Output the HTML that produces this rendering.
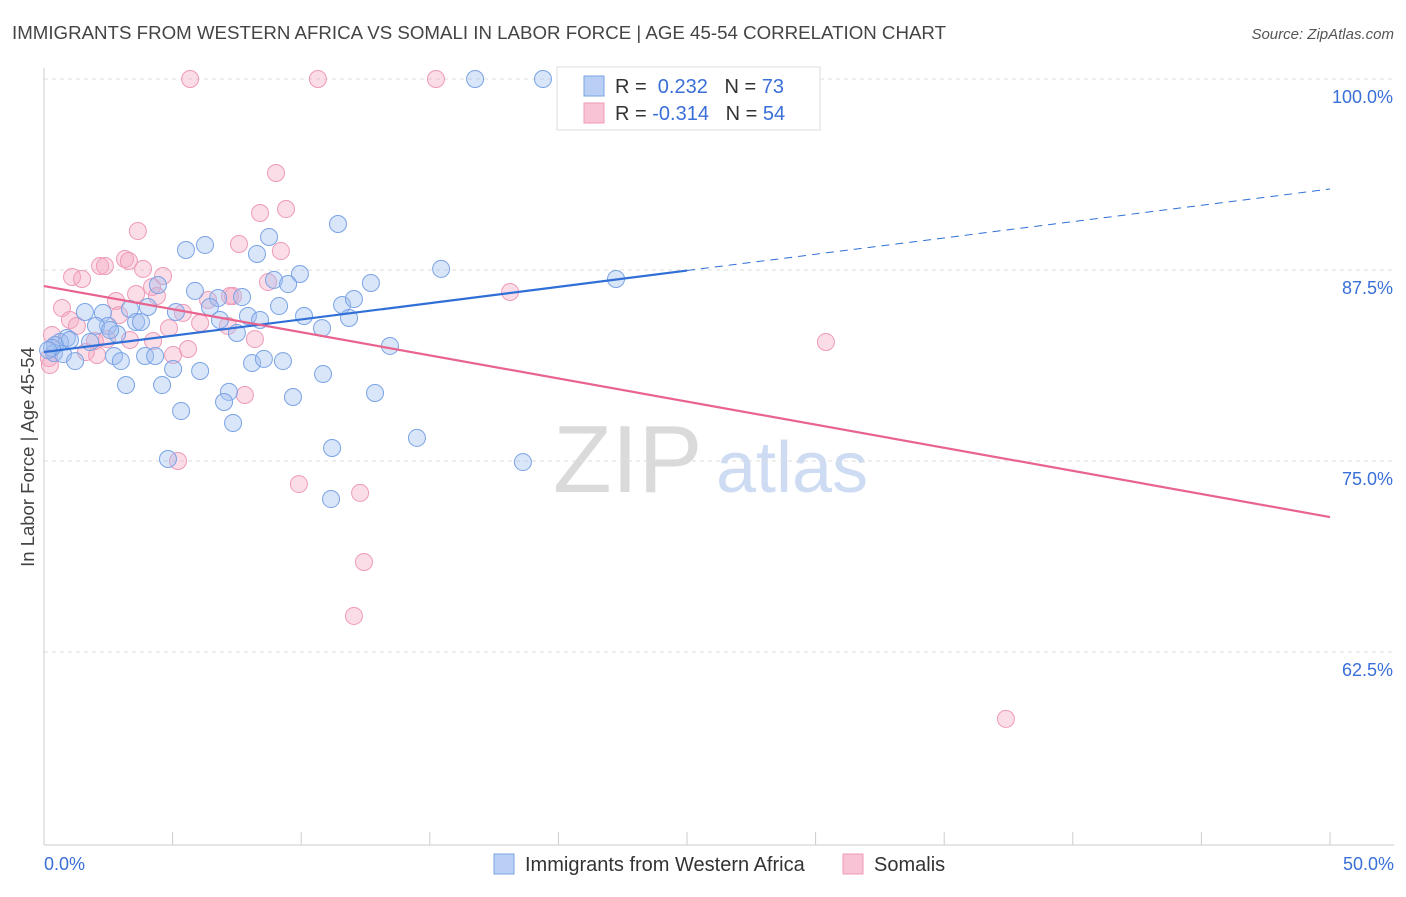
<!DOCTYPE html>
<html><head><meta charset="utf-8"><style>
body{margin:0;background:#fff;font-family:"Liberation Sans",sans-serif;}
svg text{font-family:"Liberation Sans",sans-serif;}
</style></head><body>
<svg id="chart" width="1406" height="892" viewBox="0 0 1406 892">
<text x="12" y="39" font-size="18" fill="#444" textLength="934" lengthAdjust="spacingAndGlyphs">IMMIGRANTS FROM WESTERN AFRICA VS SOMALI IN LABOR FORCE | AGE 45-54 CORRELATION CHART</text>
<text x="1394" y="39" font-size="15" fill="#555" text-anchor="end" font-style="italic">Source: ZipAtlas.com</text>
<g>
<text x="553" y="492" font-family="Liberation Serif,serif" font-size="96" fill="#dadada">ZIP</text>
<text x="716" y="492" font-size="72" fill="#cddcf3">atlas</text>
</g>
<g id="grid"></g>
<g id="axes"></g>
<g id="pink"></g>
<g id="blue"></g>
<g id="lines"></g>
<text transform="translate(34,457) rotate(-90)" font-size="18.5" fill="#444" text-anchor="middle">In Labor Force | Age 45-54</text>
<g>
<rect x="557" y="67" width="263" height="63" fill="#fff" stroke="#ddd"/>
<rect x="584" y="76" width="20" height="20" fill="#b9cff3" stroke="#7aa3e5"/>
<rect x="584" y="103" width="20" height="20" fill="#f8c4d5" stroke="#ef9ab8"/>
<text x="615" y="93" font-size="20" fill="#333">R = <tspan fill="#3a6fd8">&#160;0.232</tspan>&#160;&#160;&#160;N = <tspan fill="#3a6fd8">73</tspan></text>
<text x="615" y="120" font-size="20" fill="#333">R = <tspan fill="#3a6fd8">-0.314</tspan>&#160;&#160;&#160;N = <tspan fill="#3a6fd8">54</tspan></text>
</g>
<g>
<rect x="494" y="854" width="20" height="20" fill="#b9cff3" stroke="#7aa3e5"/>
<text x="525" y="871" font-size="20" fill="#333">Immigrants from Western Africa</text>
<rect x="843" y="854" width="20" height="20" fill="#f8c4d5" stroke="#ef9ab8"/>
<text x="874" y="871" font-size="20" fill="#333">Somalis</text>
</g>
</svg>
<script>
const blueX=[16.76,19.40,11.43,5.52,6.26,8.75,8.28,15.44,22.24,9.95,8.94,9.49,12.71,5.87,6.77,7.70,4.43,9.14,10.11,11.59,12.05,11.86,10.81,1.59,2.29,3.34,4.04,5.13,6.45,6.84,7.93,8.40,3.58,3.77,2.49,2.02,2.84,7.50,0.89,0.62,0.43,1.79,13.45,0.39,0.74,1.21,2.72,2.99,3.93,4.32,5.02,6.07,8.09,8.55,9.29,10.85,3.19,4.59,7.19,12.87,9.68,5.33,7.00,7.35,14.50,11.20,4.82,18.62,11.16,0.31,0.16,1.01,2.57];
const blueY=[100,100,90.51,88.81,89.14,89.66,88.55,87.57,86.91,87.24,86.85,86.58,86.65,86.13,85.67,85.73,86.52,85.14,84.49,85.21,85.60,84.36,83.70,84.75,84.69,84.95,85.08,84.75,85.08,84.23,84.49,84.23,84.10,84.10,83.84,83.84,83.31,83.38,83.05,82.79,82.59,82.79,82.53,82.07,82.00,81.54,81.87,81.54,81.87,81.87,81.02,80.89,81.41,81.68,81.54,80.69,79.97,79.97,79.52,79.45,79.19,78.27,78.86,77.49,76.51,75.85,75.13,74.93,72.51,82.40,82.26,82.92,83.57];
const pinkX=[5.68,10.65,15.24,9.02,9.41,8.40,3.65,7.58,9.21,3.15,3.30,2.18,2.37,3.85,1.09,1.48,4.63,4.20,4.39,3.58,7.35,8.71,6.38,7.23,18.12,2.80,0.70,1.01,2.92,5.40,1.28,4.86,6.07,7.15,0.31,4.24,8.20,1.98,2.45,5.60,3.34,5.02,2.06,1.63,0.19,7.81,5.21,9.91,12.29,12.44,12.05,30.40,37.40,0.23];
const pinkY=[100,100,100,93.85,91.49,91.23,90.05,89.20,88.74,88.22,88.09,87.76,87.76,87.57,87.04,86.91,87.11,86.39,85.80,85.93,85.80,86.71,85.54,85.80,86.06,85.47,85.01,84.23,84.55,84.69,83.84,83.70,84.03,83.84,83.25,82.85,82.98,82.85,82.98,82.33,82.92,81.94,81.94,82.13,81.74,79.32,75.00,73.49,72.91,68.39,64.86,82.79,58.12,81.28];
const blueTrend=[82.13,92.8];
const pinkTrend=[86.45,71.33];
const yTicks=[100,87.5,75,62.5];
const yTickLabels=["100.0%","87.5%","75.0%","62.5%"];
const xTickLabels=["0.0%","50.0%"];
const NS="http://www.w3.org/2000/svg";
const X=v=>44+v/50*1286;
const Y=v=>79+(100-v)*15.28;
function mk(tag,attrs,parent){const e=document.createElementNS(NS,tag);for(const k in attrs)e.setAttribute(k,attrs[k]);parent.appendChild(e);return e;}
const grid=document.getElementById('grid'),axes=document.getElementById('axes');
yTicks.forEach((t,i)=>{
 const l=mk('line',{x1:44,x2:1394,y1:Y(t),y2:Y(t),stroke:'#ddd','stroke-dasharray':'4,4'},grid);
 
 
 const tx=mk('text',{x:1393,y:Y(t)+24,'font-size':18,fill:'#3a6fd8','text-anchor':'end'},axes);
 tx.textContent=yTickLabels[i];
 
 
});
mk('line',{x1:44,x2:44,y1:68,y2:845,stroke:'#ccc'},axes);
mk('line',{x1:44,x2:1394,y1:845,y2:845,stroke:'#ccc'},axes);
for(let i=0;i<=10;i++){const t=mk('line',{x1:X(i*5),x2:X(i*5),y1:832,y2:845,stroke:'#ccc'},axes);
 
 }
const xl0=mk('text',{x:44,y:870,'font-size':18,fill:'#3a6fd8'},axes);xl0.textContent=xTickLabels[0];


const xl1=mk('text',{x:1394,y:870,'font-size':18,fill:'#3a6fd8','text-anchor':'end'},axes);xl1.textContent=xTickLabels[1];


const pg=document.getElementById('pink'),bg=document.getElementById('blue');
pinkX.forEach((x,i)=>{const c=mk('circle',{cx:X(x),cy:Y(pinkY[i]),r:8.5,fill:'rgba(245,170,195,0.4)',stroke:'#ef9ab8','stroke-width':1},pg);
 
 });
blueX.forEach((x,i)=>{const c=mk('circle',{cx:X(x),cy:Y(blueY[i]),r:8.5,fill:'rgba(160,190,240,0.4)',stroke:'#7aa3e5','stroke-width':1},bg);
 
 });
const lg=document.getElementById('lines');
const bmid=(blueTrend[0]+blueTrend[1])/2;
const b1=mk('line',{x1:X(0),y1:Y(blueTrend[0]),x2:X(25),y2:Y(bmid),stroke:'#2f6fd6','stroke-width':2.2},lg);


const b2=mk('line',{x1:X(25),y1:Y(bmid),x2:X(50),y2:Y(blueTrend[1]),stroke:'#2f6fd6','stroke-width':1,'stroke-dasharray':'8,6'},lg);


const p1=mk('line',{x1:X(0),y1:Y(pinkTrend[0]),x2:X(50),y2:Y(pinkTrend[1]),stroke:'#e8648e','stroke-width':2.2},lg);


</script>
</body></html>
